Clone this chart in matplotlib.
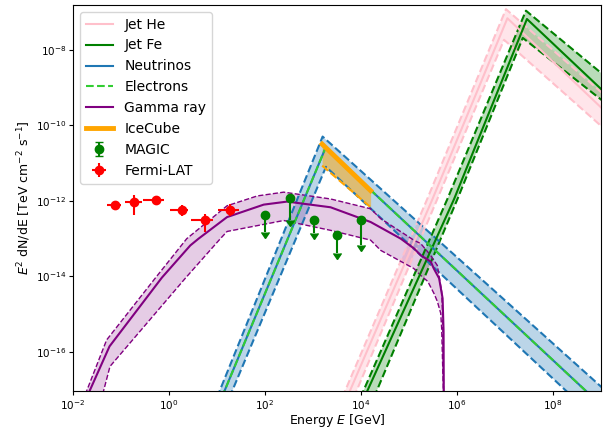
import matplotlib
matplotlib.use("Agg")
import matplotlib.pyplot as plt
import numpy as np

# ---- data (log10 E [GeV], log10 E^2 dN/dE [TeV cm^-2 s^-1]) ----

# gamma ray model: central, upper and lower edge
gam_logE = [-1.75, -1.24, -0.148, 0.443, 0.616, 1.209, 1.973, 2.46, 3.365, 4.20,
            4.827, 5.104, 5.244, 5.453, 5.516, 5.627, 5.70, 5.72, 5.725]
gam_logF = [-17.3, -15.85, -14.03, -13.18, -13.0, -12.43, -12.10, -12.02, -12.17, -12.56,
            -13.0, -13.26, -13.44, -13.61, -13.79, -14.05, -14.58, -15.45, -17.5]
gam_up_logE = [-1.80, -1.30, -0.29, 0.37, 1.21, 1.84, 2.39, 3.365, 4.20, 4.41,
               5.10, 5.244, 5.45, 5.59, 5.68, 5.70, 5.725]
gam_up_logF = [-17.3, -15.68, -14.05, -13.0, -12.13, -11.87, -11.77, -11.95, -12.21, -12.47,
               -13.04, -13.13, -13.44, -13.71, -14.4, -15.0, -17.5]
gam_lo_logE = [-1.42, -1.23, 0.338, 1.07, 1.21, 2.39, 3.365, 4.20, 4.41, 5.10,
               5.24, 5.39, 5.52, 5.59, 5.66, 5.68, 5.725]
gam_lo_logF = [-17.3, -16.38, -14.05, -13.0, -12.81, -12.52, -12.78, -13.04, -13.31, -13.79,
               -13.97, -14.13, -14.45, -14.66, -14.97, -15.37, -17.5]

# neutrinos / electrons
nu_logE = [1.10, 3.26, 8.83]
nu_logF = [-17.2, -10.6, -17.2]
nu_up_logE = [1.00, 3.20, 9.25]
nu_up_logF = [-17.2, -10.3, -17.2]
nu_lo_logE = [1.26, 3.27, 8.42]
nu_lo_logF = [-17.2, -11.1, -17.2]

# IceCube
ic_logE = [3.19, 4.20]
ic_logF = [-10.5, -11.73]
ic_lo_logF = [-11.07, -12.17]

# Jet He
he_logE = [3.71, 5.49, 7.05, 9.1]
he_logF = [-17.2, -11.95, -7.17, -9.65]
he_up_logE = [3.61, 5.38, 7.02, 9.1]
he_up_logF = [-17.2, -11.95, -6.93, -9.23]
he_lo_logE = [3.85, 5.59, 6.98, 9.1]
he_lo_logF = [-17.2, -11.95, -7.74, -10.13]

# Jet Fe
fe_logE = [4.07, 5.94, 7.457, 9.1]
fe_logF = [-17.2, -11.95, -7.19, -9.16]
fe_up_logE = [3.99, 5.80, 7.436, 9.1]
fe_up_logF = [-17.2, -11.95, -6.97, -8.72]
fe_lo_logE = [4.27, 6.01, 7.37, 9.1]
fe_lo_logF = [-17.2, -11.95, -7.69, -9.42]

# Fermi-LAT points
fermi_logE = [-1.123, -0.72, -0.267, 0.269, 0.741, 1.263]
fermi_logE_lo = [-1.284, -0.914, -0.539, 0.025, 0.463, 1.02]
fermi_logE_hi = [-1.004, -0.566, -0.10, 0.40, 0.917, 1.466]
fermi_logF = [-12.12, -12.02, -11.99, -12.255, -12.52, -12.24]
fermi_logF_lo = [-12.17, -12.37, -12.04, -12.40, -12.82, -12.39]
fermi_logF_hi = [-12.07, -11.84, -11.94, -12.10, -12.34, -12.09]

# MAGIC upper limits
magic_logE = [1.994, 2.524, 3.03, 3.505, 4.01]
magic_logF = [-12.37, -11.93, -12.52, -12.91, -12.5]
magic_arrow = [0.45, 0.58, 0.34, 0.47, 0.66]


def p(a):
    return 10 ** np.asarray(a, dtype=float)


def band(ax, xu, yu, xl, yl, color, dlw=1.5, alpha=0.3):
    # fill between upper and lower edge on a common grid (log space)
    grid = np.linspace(min(xu[0], xl[0]), max(xu[-1], xl[-1]), 600)
    up = np.interp(grid, xu, yu, left=-30, right=-30)
    lo = np.interp(grid, xl, yl, left=-30, right=-30)
    ax.fill_between(p(grid), p(lo), p(up), color=color, alpha=alpha, lw=0)
    ax.plot(p(xu), p(yu), '--', color=color, lw=dlw)
    ax.plot(p(xl), p(yl), '--', color=color, lw=dlw)


plt.rcParams['xtick.labelsize'] = 7.5
plt.rcParams['ytick.labelsize'] = 7.5
for a in ('xtick', 'ytick'):
    plt.rcParams[a + '.major.size'] = 2.6
    plt.rcParams[a + '.major.pad'] = 2.4
    plt.rcParams[a + '.minor.size'] = 1.5

fig = plt.figure(figsize=(6.03, 4.29), dpi=100)
ax = fig.add_axes([0.1211, 0.0886, 0.8756, 0.8997])
ax.set_xscale('log')
ax.set_yscale('log')

# bands
band(ax, he_up_logE, he_up_logF, he_lo_logE, he_lo_logF, 'pink', alpha=0.4)
band(ax, fe_up_logE, fe_up_logF, fe_lo_logE, fe_lo_logF, 'green', alpha=0.27)
band(ax, nu_up_logE, nu_up_logF, nu_lo_logE, nu_lo_logF, 'tab:blue', alpha=0.3)
band(ax, gam_up_logE, gam_up_logF, gam_lo_logE, gam_lo_logF, 'purple', dlw=1.0, alpha=0.2)
ax.fill_between(p(ic_logE), p(ic_lo_logF), p(ic_logF), color='orange', alpha=0.5, lw=0)
ax.plot(p(ic_logE), p(ic_lo_logF), '--', color='orange', lw=1.5)

# central lines
ax.plot(p(he_logE), p(he_logF), color='pink', lw=1.5, label='Jet He')
ax.plot(p(fe_logE), p(fe_logF), color='green', lw=1.5, label='Jet Fe')
ax.plot(p(nu_logE), p(nu_logF), color='tab:blue', lw=1.5, label='Neutrinos')
ax.plot(p(nu_logE), p(nu_logF), '--', color='limegreen', lw=1.5, label='Electrons')
ax.plot(p(gam_logE), p(gam_logF), color='purple', lw=1.5, label='Gamma ray')
ax.plot(p(ic_logE), p(ic_logF), color='orange', lw=3.5, label='IceCube')

mf = p(magic_logF)
ax.errorbar(p(magic_logE), mf, yerr=mf * (1 - 10 ** -np.asarray(magic_arrow)),
            uplims=True, fmt='o', color='green', ms=6, capsize=3, label='MAGIC')

fx = p(fermi_logE)
ff = p(fermi_logF)
ax.errorbar(fx, ff,
            xerr=[fx - p(fermi_logE_lo), p(fermi_logE_hi) - fx],
            yerr=[ff - p(fermi_logF_lo), p(fermi_logF_hi) - ff],
            fmt='o', color='red', ms=6, label='Fermi-LAT')

ax.set_xlim(1e-2, 1e9)
ax.set_ylim(10 ** -17.03, 10 ** -6.82)
ax.set_xlabel('Energy $E$ [GeV]', fontsize=9, labelpad=0.5)
ax.set_ylabel('$E^2$ dN/dE [TeV cm$^{-2}$ s$^{-1}$]', fontsize=9, labelpad=2)
ax.legend(loc='upper left', fontsize=10)

fig.savefig('out.png', dpi=100)
